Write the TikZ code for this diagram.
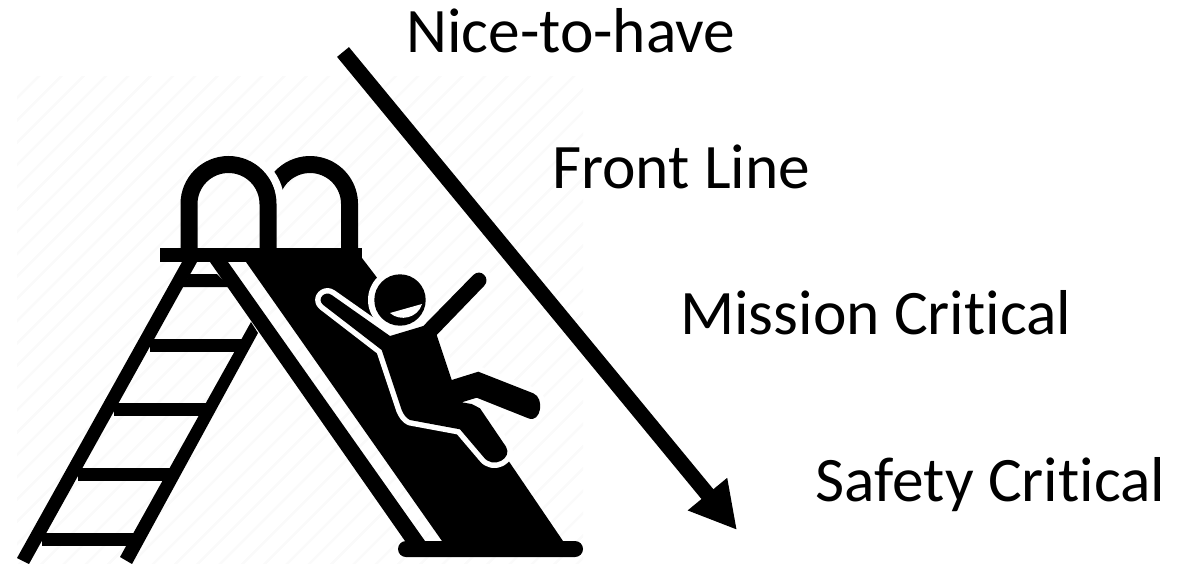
\documentclass[tikz,border=0pt]{standalone}
\usepackage{fontspec}
\setmainfont[Ligatures=NoCommon]{Carlito}
\usetikzlibrary{arrows.meta}
\definecolor{hatchgray}{gray}{0.98}
\tikzset{
  label/.style={anchor=base west,inner sep=0pt,font=\fontsize{63.4}{64}\selectfont},
  hatchline/.style={hatchgray,line width=2.5pt},
  solid black/.style={fill=black,draw=none},
  halo/.style={fill=black,preaction={draw=white,line width=11pt,line join=round}},
  rail/.style={line width=17pt,black},
  bigarrow/.style={-{Triangle[length=46.5pt,width=47.6pt]},line width=15.4pt}
}
\begin{document}
\begin{tikzpicture}[x=1pt,y=-1pt]
    \useasboundingbox (0,0) rectangle (1191,563);
    % faint stripes behind the slide
    \begin{scope}
      \clip (17,76) rectangle (583,563);
      \foreach \s in {0,1,...,50}
        \draw[hatchline] (40+22.3*\s,75) -- ++(-500,500);
    \end{scope}
    % ladder
    \fill[solid black] (17,558) -- (182,262) -- (197,262) -- (29,564) -- cycle;
    \fill[solid black] (120,557) -- (251,322) -- (258,333) -- (132,564) -- cycle;
    \fill[solid black] (190,274) -- (217,274) -- (230,287) -- (182,287) -- cycle;
    \foreach \yt/\xa/\xb in {339/150/245,403/114/210,468/78/174,533/42/138}
      \fill[solid black] (\xa,\yt) rectangle (\xb,\yt+12.5);
    % platform and arches
    \fill[solid black] (160,248) rectangle (362,262);
    \draw[rail] (272.9,190.5) arc (200:360:39.5) -- (349.5,250);
    \draw[white,line width=8pt] (254.5,159) arc (300:365:52);
    \draw[rail] (189,250) -- (189,204) arc (180:360:39.5) -- (268,250);
    % slide
    \fill[solid black] (210,262) -- (228,262) -- (425,541) -- (405,541) -- cycle;
    \fill[solid black] (246,262) -- (362,258) -- (375,275) -- (510,463) -- (563,541) -- (442,541) -- cycle;
    \fill[solid black,rounded corners=8pt] (398,541) rectangle (583,557);
    % rider
    \fill[white] (400,300) circle (32);
    \path[halo] (390,336) -- (423.3,326) -- (473.3,275)
      .. controls (480.7,267.6) and (491.4,278.6) .. (484,286)
      -- (436.7,335) -- (451.7,380) -- (478.3,371.7) -- (533.3,393.3)
      .. controls (545,398) and (541,423.5) .. (528.3,418.3)
      -- (476.7,397.7) -- (461.7,402.3) -- (471.7,404) -- (480,408.3) -- (506,446.7)
      .. controls (513,458) and (493,470) .. (483.3,456.7)
      -- (460,429.3) -- (410,420)
      .. controls (406,418) and (404,415) .. (401.7,410)
      -- (381.7,350) -- (323.3,305)
      .. controls (316,299) and (325,290) .. (331.7,295) -- cycle;
    \fill[solid black] (400,300) circle (25.7);
    \fill[white] (390,313) -- (422,304) .. controls (418,318) and (400,322) .. cycle;
    % arrow
    \coordinate (from) at (343,52);
    \coordinate (to) at (737,530);
    \draw[bigarrow] (from) -- (to);
    % labels
    \node[label] (nice) at (406,52.3) {Nice-to-have};
    \node[label] (front) at (552,188) {Front Line};
    \node[label] (mission) at (680,334) {Mission Critical};
    \node[label] (safety) at (815.5,501.7) {Safety Critical};
  \end{tikzpicture}
\end{document}
